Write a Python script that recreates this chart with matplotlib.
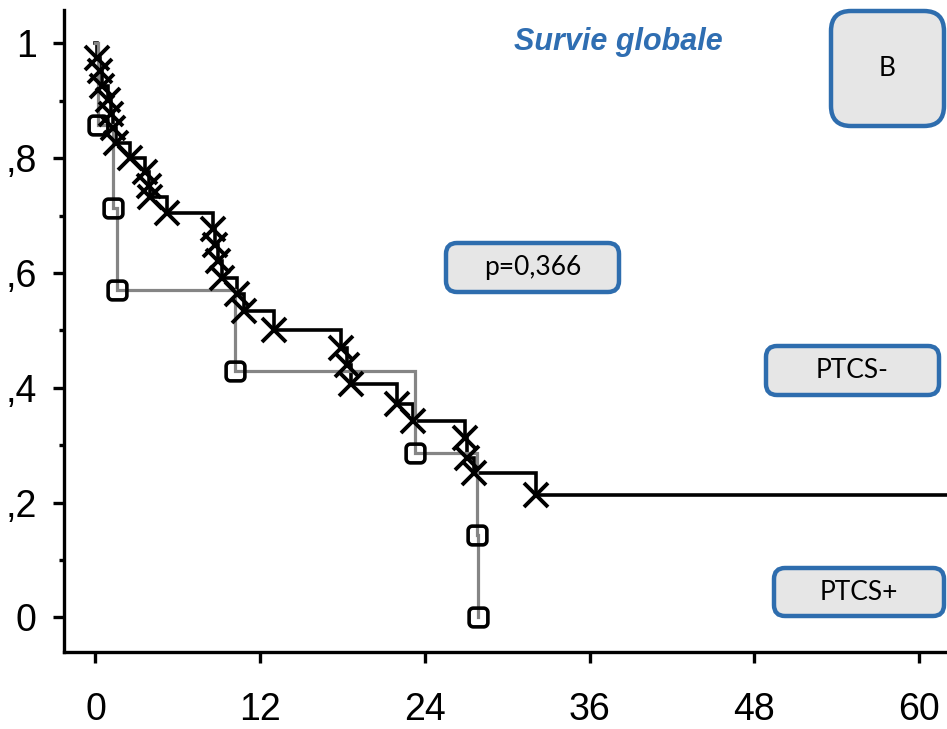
import numpy as np
import matplotlib
matplotlib.use("Agg")
import matplotlib.pyplot as plt
from matplotlib.path import Path
from matplotlib.patches import FancyBboxPatch
from matplotlib.transforms import IdentityTransform

# ---- Kaplan-Meier data (months, survival after each event) ----
times_neg = [0.1, 0.3, 0.5, 0.9, 1.1, 1.3, 1.5, 2.5, 3.6, 3.9, 4.0, 5.2,
             8.55, 8.7, 8.95, 9.2, 10.3, 10.8, 13.0, 17.9, 18.3, 18.6,
             22.0, 23.1, 26.9, 27.1, 27.6, 32.1]
surv_neg = [0.975, 0.951, 0.926, 0.901, 0.877, 0.852, 0.827, 0.800, 0.775,
            0.752, 0.733, 0.704, 0.676, 0.648, 0.620, 0.592, 0.563, 0.533,
            0.500, 0.469, 0.440, 0.407, 0.372, 0.342, 0.312, 0.277, 0.251,
            0.213]

times_pos = [0.2, 1.3, 1.6, 10.2, 23.3, 27.8, 27.9]
surv_pos = [0.857, 0.714, 0.571, 0.429, 0.286, 0.143, 0.0]

x_ticks = [0, 12, 24, 36, 48, 60]
y_ticks = [0, 0.2, 0.4, 0.6, 0.8, 1.0]
y_tick_labels = ["0", ",2", ",4", ",6", ",8", "1"]

title = "Survie globale"
panel = "B"
p_text = "p=0,366"
label_neg = "PTCS-"
label_pos = "PTCS+"

W, H = 947, 729
fig = plt.figure(figsize=(W / 100, H / 100), dpi=100)
ax = fig.add_axes([64.3 / W, 1 - 651.7 / H, 1 - 64.3 / W, (651.7 - 10) / H])
ax.set_xlim(-2.27, 62.03)
ax.set_ylim(-0.0596, 1.058)


def step_xy(times, surv, x_end=None):
    xs, ys = [0.0], [1.0]
    level = 1.0
    for t, s in zip(times, surv):
        xs += [t, t]
        ys += [level, s]
        level = s
    if x_end is not None:
        xs.append(x_end)
        ys.append(level)
    return xs, ys


def rounded_square(r=0.45, n=10):
    pts = []
    centers = [(1 - r, 1 - r, 0), (-1 + r, 1 - r, 90),
               (-1 + r, -1 + r, 180), (1 - r, -1 + r, 270)]
    for cx, cy, a0 in centers:
        for a in np.linspace(np.radians(a0), np.radians(a0 + 90), n):
            pts.append((cx + r * np.cos(a), cy + r * np.sin(a)))
    pts.append(pts[0])
    codes = [Path.MOVETO] + [Path.LINETO] * (len(pts) - 2) + [Path.CLOSEPOLY]
    return Path(pts, codes)


xn, yn = step_xy(times_neg, surv_neg, x_end=ax.get_xlim()[1])
xp, yp = step_xy(times_pos, surv_pos)

ax.plot(xn, yn, color="black", lw=2.6, solid_joinstyle="miter", zorder=2)
ax.plot(xp, yp, color="#858585", lw=2.3, solid_joinstyle="miter", zorder=3)
ax.plot(times_neg, surv_neg, ls="none", marker="x", ms=17, mew=2.8,
        color="black", zorder=4)
ax.plot(times_pos, surv_pos, ls="none", marker=rounded_square(), ms=13.5,
        mew=2.6, mfc="none", mec="black", zorder=5)

# axes styling
for side in ("top", "right"):
    ax.spines[side].set_visible(False)
for side in ("left", "bottom"):
    ax.spines[side].set_linewidth(2.4)

tick_font = {"family": ["Liberation Sans Narrow", "Liberation Sans"], "size": 27}
ax.set_xticks(x_ticks)
ax.set_xticklabels([str(v) for v in x_ticks], fontdict=tick_font)
ax.set_yticks(y_ticks)
ax.set_yticklabels(y_tick_labels, fontdict=tick_font)
ax.set_yticks([0.1, 0.3, 0.5, 0.7, 0.9], minor=True)
ax.tick_params(axis="x", direction="out", length=8, width=2.4, pad=21)
ax.tick_params(axis="y", which="major", direction="out", length=8, width=2.4, pad=12)
ax.tick_params(axis="y", which="minor", direction="out", length=3.8, width=2.4)

fig.text(618 / W, 1 - 42 / H, title, ha="center", va="center",
         fontfamily="Liberation Sans", fontweight="bold", fontstyle="italic",
         fontsize=22, color="#2F6EB2")

box_edge = "#2E6DAE"
box_face = "#E6E6E6"


def add_box(x0, y0, x1, y1, text, radius):
    patch = FancyBboxPatch((x0, H - y1), x1 - x0, y1 - y0,
                           boxstyle=f"round,pad=0,rounding_size={radius}",
                           transform=IdentityTransform(), fc=box_face,
                           ec=box_edge, lw=3.2, zorder=10)
    fig.patches.append(patch)
    fig.text((x0 + x1) / 2 / W, 1 - (y0 + y1) / 2 / H, text, ha="center",
             va="center", fontfamily="Lato", fontsize=19, color="black",
             zorder=11)


add_box(831, 11, 944, 126, panel, 20)
add_box(446, 243, 619, 292, p_text, 11)
add_box(766, 346, 939, 395, label_neg, 11)
add_box(774, 568, 944, 616, label_pos, 11)

fig.savefig("out.png", dpi=100)
